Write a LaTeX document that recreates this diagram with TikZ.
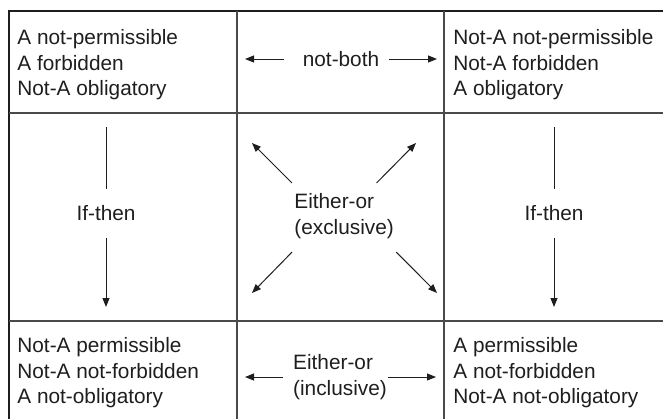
\documentclass[tikz,border=0pt]{standalone}
\usepackage{fontspec}
\setmainfont{Liberation Sans}
\usetikzlibrary{arrows.meta}

\definecolor{ink}{HTML}{1E1E1E}
\definecolor{rulegray}{HTML}{4A4A4A}
\newcommand{\cellfont}{\fontsize{10.4pt}{12.8pt}\selectfont}

\begin{document}
\begin{tikzpicture}[x=0.5pt, y=-0.5pt,
  border/.style={draw=ink, line width=1pt},
  rule/.style={draw=rulegray, line width=0.7pt},
  cell/.style={anchor=north west, inner sep=0pt, align=left, text=ink, font=\cellfont},
  lbl/.style={inner sep=0pt, text=ink, font=\cellfont},
  xlbl/.style={lbl, anchor=west, inner xsep=1pt, inner ysep=5pt},
  link/.style={draw=ink, line width=0.5pt},
  arr/.style={link, -{Triangle[length=4.5pt, width=3.5pt]}}]

\useasboundingbox (0,0) rectangle (663,419);

% Frame and grid
\draw[border] (9,419) -- (9,11) -- (663,11);
\draw[rule] (237,11) -- (237,419);
\draw[rule] (444,11) -- (444,419);
\draw[rule] (9,113) -- (663,113);
\draw[rule] (9,321) -- (663,321);

% Corner cells
\node[cell] (tl) at (17,29) {A not-permissible\\A forbidden\\Not-A obligatory};
\node[cell] (tr) at (453,29) {Not-A not-permissible\\Not-A forbidden\\A obligatory};
\node[cell] (bl) at (17,337) {Not-A permissible\\Not-A not-forbidden\\A not-obligatory};
\node[cell] (br) at (453,337) {A permissible\\A not-forbidden\\Not-A not-obligatory};

% Top: not-both
\node[lbl] (nb) at (341,59) {not-both};
\coordinate (nbl) at (245,59);
\coordinate (nbr) at (437,59);
\draw[arr, shorten <=9pt] (nb.west) -- (nbl);
\draw[arr, shorten <=4.5pt] (nb.east) -- (nbr);

% Sides: if-then
\node[lbl] (itl) at (106,213) {If-then};
\coordinate (itlt) at (106,127);
\coordinate (itlb) at (106,307);
\draw[link, shorten >=8pt] (itlt) -- (itl);
\draw[arr, shorten <=8.5pt] (itl) -- (itlb);

\node[lbl] (itr) at (554,213) {If-then};
\coordinate (itrt) at (554,127);
\coordinate (itrb) at (554,307);
\draw[link, shorten >=8pt] (itrt) -- (itr);
\draw[arr, shorten <=8.5pt] (itr) -- (itrb);

% Centre: either-or (exclusive)
\node[xlbl] (eo) at (292,201) {Either-or};
\node[xlbl, inner ysep=6.5pt] (ex) at (292,229) {(exclusive)};
\coordinate (ul) at (252,143);
\coordinate (ur) at (416,143);
\coordinate (ll) at (252,293);
\coordinate (lr) at (437,293);
\draw[arr] (eo.north west) -- (ul);
\draw[arr] (eo.north east) -- (ur);
\draw[arr] (ex.south west) -- (ll);
\draw[arr] (ex.south east) -- (lr);

% Bottom: either-or (inclusive)
\node[lbl, align=left] (inc) at (340,377) {Either-or\\(inclusive)};
\coordinate (incl) at (245,377);
\coordinate (incr) at (436,377);
\draw[arr, shorten <=5pt] (inc.west) -- (incl);
\draw[arr, shorten <=0.5pt] (inc.east) -- (incr);

\end{tikzpicture}
\end{document}
